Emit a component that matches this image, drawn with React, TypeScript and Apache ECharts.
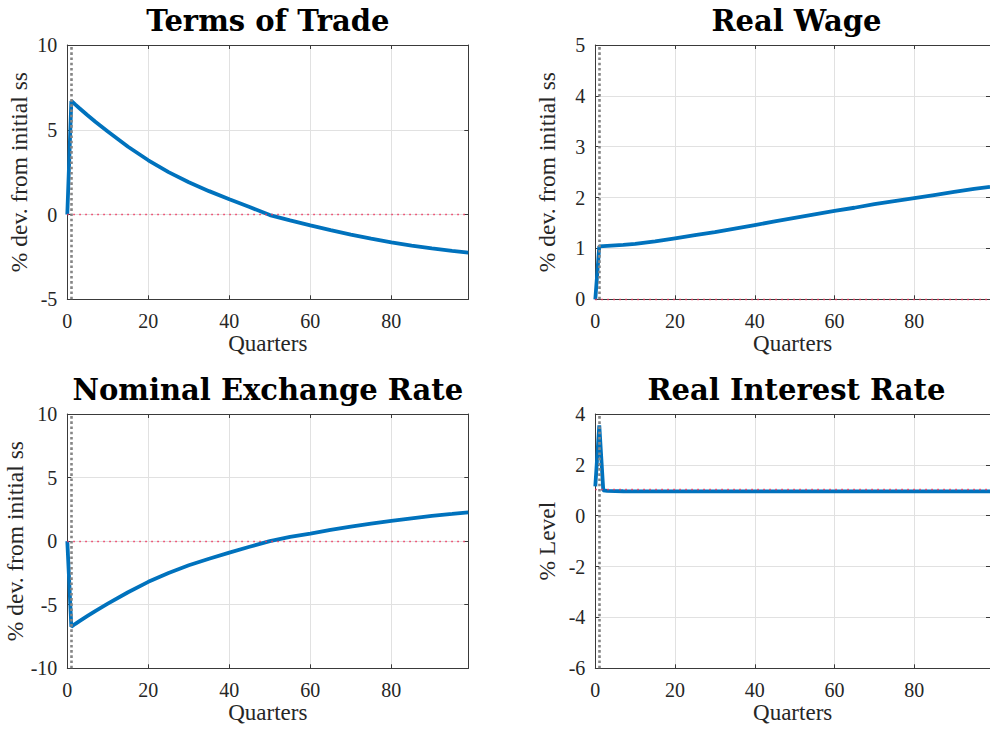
import React, { useEffect, useRef } from "react";
import * as echarts from "echarts";

// ---- data ----
const quarters = [0, 1, 2, 3, 5, 7, 10, 15, 20, 25, 30, 35, 40, 45, 50, 55, 60, 65, 70, 75, 80, 85, 90, 95, 99];
const termsOfTrade = [0, 6.7, 6.48, 6.27, 5.86, 5.46, 4.9, 4.0, 3.2, 2.5, 1.9, 1.38, 0.9, 0.44, -0.03, -0.34, -0.64, -0.92, -1.18, -1.42, -1.64, -1.83, -2.0, -2.14, -2.25];
const realWage = [0, 1.04, 1.045, 1.05, 1.06, 1.07, 1.09, 1.14, 1.2, 1.26, 1.32, 1.39, 1.46, 1.53, 1.6, 1.67, 1.74, 1.8, 1.87, 1.93, 1.99, 2.05, 2.11, 2.17, 2.21];
const nominalExchangeRate = [0, -6.72, -6.5, -6.29, -5.88, -5.48, -4.92, -4.02, -3.2, -2.5, -1.9, -1.38, -0.9, -0.44, 0.0, 0.33, 0.6, 0.88, 1.14, 1.38, 1.6, 1.8, 1.98, 2.14, 2.27];
const realInterestRate = [1.15, 3.55, 1.0, 0.975, 0.965, 0.962, 0.96, 0.96, 0.96, 0.96, 0.96, 0.96, 0.96, 0.96, 0.958, 0.958, 0.958, 0.957, 0.957, 0.956, 0.956, 0.956, 0.955, 0.955, 0.955];

const titles = ["Terms of Trade", "Real Wage", "Nominal Exchange Rate", "Real Interest Rate"];
const yNames = ["% dev. from initial ss", "% dev. from initial ss", "% dev. from initial ss", "% Level"];
const xName = "Quarters";
const yMins = [-5, 0, -10, -6];
const yMaxs = [10, 5, 10, 4];
const yIntervals = [5, 1, 5, 2];
const steadyState = [0, 0, 0, 1.05];
const shockQuarter = 1;
const xMin = 0;
const xMax = 99;
const xInterval = 20;
const panelSeries = [termsOfTrade, realWage, nominalExchangeRate, realInterestRate];

// ---- layout ----
const grids = [
  { left: 67.3, top: 45, width: 401, height: 254.3 },
  { left: 595.3, top: 45, width: 402.2, height: 254.3 },
  { left: 67.3, top: 414, width: 401, height: 254.3 },
  { left: 595.3, top: 414, width: 402.2, height: 254.3 },
];

const SERIF = "'Liberation Serif', 'Times New Roman', serif";
const AXIS_COLOR = "#3a3a3a";
const TEXT_COLOR = "#262626";
const GRID_COLOR = "#e1e1e1";

export default function App() {
  const ref = useRef<HTMLDivElement>(null);
  useEffect(() => {
    if (!ref.current) return;
    const chart = echarts.init(ref.current, undefined, { renderer: "svg" });

    const xAxes: any[] = [];
    const yAxes: any[] = [];
    const series: any[] = [];
    const titleOpts: any[] = [];

    grids.forEach((g, i) => {
      titleOpts.push({
        text: titles[i],
        left: g.left + g.width / 2,
        top: g.top - 39,
        textAlign: "center",
        padding: 0,
        textStyle: {
          fontFamily: "'DejaVu Serif', serif",
          fontWeight: "bold",
          fontSize: 29,
          color: "#000",
        },
      });
      const common = {
        gridIndex: i,
        type: "value",
        axisLine: { show: true, onZero: false, lineStyle: { color: AXIS_COLOR, width: 1 } },
        axisTick: { show: true, inside: true, length: 4, lineStyle: { color: AXIS_COLOR, width: 1 } },
      };
      xAxes.push({
        ...common,
        position: "bottom",
        min: xMin,
        max: xMax,
        interval: xInterval,
        name: xName,
        nameLocation: "middle",
        nameGap: 26,
        nameTextStyle: { fontFamily: SERIF, fontSize: 23, color: TEXT_COLOR },
        axisLabel: { show: true, margin: 12, fontFamily: SERIF, fontSize: 20, color: TEXT_COLOR, showMaxLabel: false },
        splitLine: { show: true, lineStyle: { color: GRID_COLOR, width: 1 } },
      });
      xAxes.push({
        ...common,
        position: "top",
        min: xMin,
        max: xMax,
        interval: xInterval,
        axisLabel: { show: false },
        splitLine: { show: false },
      });
      yAxes.push({
        ...common,
        position: "left",
        min: yMins[i],
        max: yMaxs[i],
        interval: yIntervals[i],
        name: yNames[i],
        nameLocation: "middle",
        nameRotate: 90,
        nameGap: 36,
        nameTextStyle: { fontFamily: SERIF, fontSize: 23.5, color: TEXT_COLOR },
        axisLabel: { show: true, margin: 10, fontFamily: SERIF, fontSize: 20, color: TEXT_COLOR },
        splitLine: { show: true, lineStyle: { color: GRID_COLOR, width: 1 } },
      });
      yAxes.push({
        ...common,
        position: "right",
        min: yMins[i],
        max: yMaxs[i],
        interval: yIntervals[i],
        axisLabel: { show: false },
        splitLine: { show: false },
      });
      series.push({
        type: "line",
        xAxisIndex: 2 * i,
        yAxisIndex: 2 * i,
        data: quarters.map((q, k) => [q, panelSeries[i][k]]),
        showSymbol: false,
        symbol: "none",
        smooth: false,
        lineStyle: { color: "#0072BD", width: 3.8 },
        z: 2,
      });
      series.push({
        type: "line",
        xAxisIndex: 2 * i,
        yAxisIndex: 2 * i,
        data: [],
        z: 5,
        markLine: {
          silent: true,
          symbol: ["none", "none"],
          label: { show: false },
          animation: false,
          data: [
            { yAxis: steadyState[i], lineStyle: { color: "#f0365e", width: 1.4, type: [1.5, 4.5] } },
            { xAxis: shockQuarter, lineStyle: { color: "#858585", width: 2.6, type: [2.6, 2.6] } },
          ],
        },
      });
    });

    chart.setOption({
      animation: false,
      backgroundColor: "#ffffff",
      title: titleOpts,
      grid: grids.map((g) => ({ ...g, containLabel: false })),
      xAxis: xAxes,
      yAxis: yAxes,
      series,
    });
    return () => chart.dispose();
  }, []);

  return (
    <div
      ref={ref}
      style={{ position: "absolute", left: 0, top: 0, width: 990, height: 731, background: "#fff" }}
    />
  );
}
